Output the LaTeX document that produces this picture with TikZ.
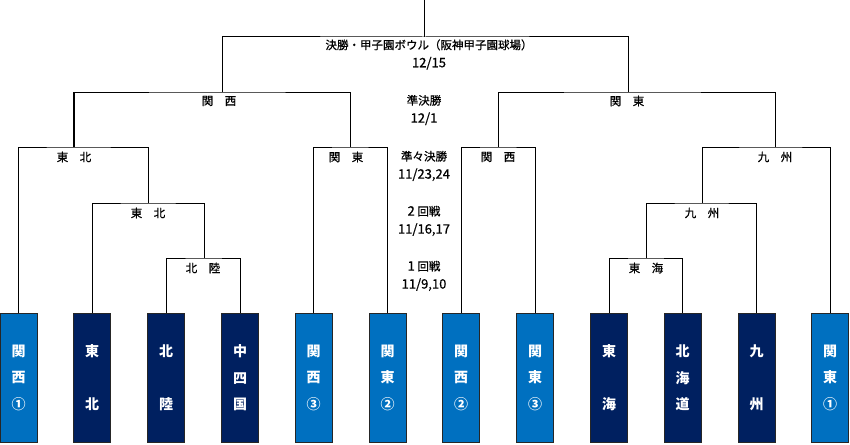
\documentclass[tikz,border=0pt]{standalone}
\usepackage{fontspec}
\setmainfont{Noto Sans CJK JP}
\newfontfamily\labfont{Noto Sans CJK JP}[FakeBold=0.7]
\definecolor{kblue}{HTML}{0070C0}
\definecolor{knavy}{HTML}{002060}
\begin{document}
\begin{tikzpicture}[x=1pt,y=-1pt,
  bline/.style={line width=1pt, black},
  teambox/.style={draw=black!85, line width=0.8pt, minimum width=37pt, minimum height=129pt,
    inner sep=0pt, anchor=north, text=white, align=center,
    font=\bfseries\fontsize{14}{26.5}\selectfont},
  lightteam/.style={teambox, fill=kblue},
  darkteam/.style={teambox, fill=knavy},
  lab/.style={font=\labfont\fontsize{11.5}{13}\selectfont, inner sep=0pt, anchor=center},
  roundlab/.style={font=\labfont\fontsize{11.5}{18}\selectfont, inner sep=0pt, align=center, anchor=center}
]
\useasboundingbox (0,0) rectangle (850,444);

% team boxes
\node[lightteam] (b1)  at (18.5,313)  {関\\西\\①};
\node[darkteam]  (b2)  at (92,313)    {東\\\phantom{東}\\北};
\node[darkteam]  (b3)  at (166,313)   {北\\\phantom{北}\\陸};
\node[darkteam]  (b4)  at (240,313)   {中\\四\\国};
\node[lightteam] (b5)  at (313.5,313) {関\\西\\③};
\node[lightteam] (b6)  at (387.5,313) {関\\東\\②};
\node[lightteam] (b7)  at (461,313)   {関\\西\\②};
\node[lightteam] (b8)  at (535,313)   {関\\東\\③};
\node[darkteam]  (b9)  at (609,313)   {東\\\phantom{東}\\海};
\node[darkteam]  (b10) at (682.5,313) {北\\海\\道};
\node[darkteam]  (b11) at (756.5,313) {九\\\phantom{九}\\州};
\node[lightteam] (b12) at (830,313)   {関\\東\\①};

% junction points
\coordinate (jL1)  at (204,258);
\coordinate (jL2)  at (148,203);
\coordinate (jLQ1) at (74,147);
\coordinate (jLQ2) at (350,147);
\coordinate (jLS)  at (222,92);
\coordinate (jRQ1) at (498,147);
\coordinate (jR1)  at (646,258);
\coordinate (jR2)  at (702,203);
\coordinate (jRQ2) at (775,147);
\coordinate (jRS)  at (628,92);
\coordinate (jF)   at (424,37);
\coordinate (top)  at (424,0);

% bracket lines
\draw[bline] (b3.north) |- (jL1) -| (b4.north);
\draw[bline] (b2.north) |- (jL2) -| (jL1);
\draw[bline] (b1.north) |- (jLQ1) -| (jL2);
\draw[bline] (b5.north) |- (jLQ2) -| (b6.north);
\draw[bline] (jLQ1 |- jLS) -- (jLS) -- (jLQ2 |- jLS) -- (jLQ2);
\draw[bline, line width=1.8pt] (jLQ1) -- (jLQ1 |- jLS);
\draw[bline] (b7.north) |- (jRQ1) -| (b8.north);
\draw[bline] (b9.north) |- (jR1) -| (b10.north);
\draw[bline] (jR1) |- (jR2) -| (b11.north);
\draw[bline] (jR2) |- (jRQ2) -| (b12.north);
\draw[bline] (jRQ1) |- (jRS) -| (jRQ2);
\draw[bline] (jLS) |- (jF) -| (jRS);
\draw[bline] (jF) -- (top);

% bracket labels
\node[lab] (tL1)  at (203,268) {北　陸};
\node[lab] (tL2)  at (148,213) {東　北};
\node[lab] (tLQ1) at (74,157)  {東　北};
\node[lab] (tLQ2) at (346,157) {関　東};
\node[lab] (tLS)  at (219,101) {関　西};
\node[lab] (tRQ1) at (498,157) {関　西};
\node[lab] (tR1)  at (646,268) {東　海};
\node[lab] (tR2)  at (702,213) {九　州};
\node[lab] (tRQ2) at (775,157) {九　州};
\node[lab] (tRS)  at (627,101) {関　東};

% round captions
\node[roundlab] (rF)  at (429,54.5)  {決勝・甲子園ボウル（阪神甲子園球場）\\{\fontsize{13}{13}\selectfont 12/15\hspace{14pt}}};
\node[roundlab] (rS)  at (424,110) {準決勝\\{\fontsize{13}{13}\selectfont 12/1}};
\node[roundlab] (rQ)  at (424,166) {準々決勝\\{\fontsize{13}{13}\selectfont 11/23,24}};
\node[roundlab] (r2)  at (424,221) {{\fontsize{13}{13}\selectfont 2} 回戦\\{\fontsize{13}{13}\selectfont 11/16,17}};
\node[roundlab] (r1)  at (424,276) {{\fontsize{13}{13}\selectfont 1} 回戦\\{\fontsize{13}{13}\selectfont 11/9,10}};
\end{tikzpicture}
\end{document}
